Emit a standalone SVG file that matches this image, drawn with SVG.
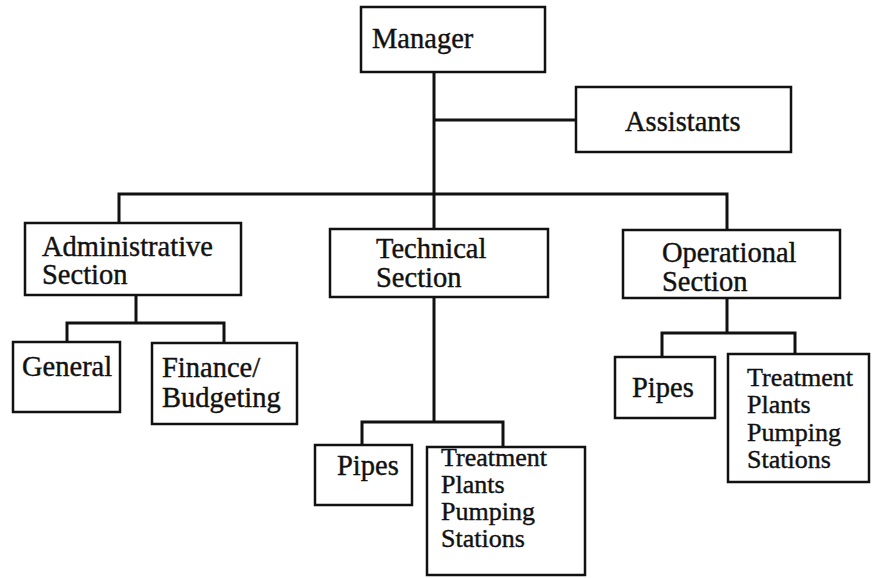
<svg xmlns="http://www.w3.org/2000/svg" width="872" height="578" viewBox="0 0 872 578">
<style>
.box{fill:#fff;stroke:#111;stroke-width:2.5}
.ln{fill:none;stroke:#111;stroke-width:3;stroke-linecap:square;stroke-linejoin:miter}
.t{font-family:'Liberation Serif','Times New Roman','DejaVu Serif',serif;font-size:28.5px;fill:#111;stroke:#111;stroke-width:0.4}
.s{font-size:26px}
</style>
<rect width="872" height="578" fill="#fff"/>
<g id="connectors">
<path class="ln" d="M434,72 V229 M434,120 H576 M119,223 V194 H727 V230"/>
<path class="ln" d="M136,295 V323 M67,342 V323 H224 V343"/>
<path class="ln" d="M434,297 V422 M362,445 V422 H503 V447"/>
<path class="ln" d="M727,298 V333 M662,357 V333 H795 V354"/>
</g>
<g id="manager"><rect class="box" x="361" y="7" width="184" height="65"/><text class="t" x="372" y="48">Manager</text></g>
<g id="assistants"><rect class="box" x="576" y="87" width="215" height="65"/><text class="t" x="625" y="131">Assistants</text></g>
<g id="admin"><rect class="box" x="25" y="223" width="216" height="72"/><text class="t" x="42" y="256">Administrative</text><text class="t" x="42" y="284">Section</text></g>
<g id="technical"><rect class="box" x="330" y="229" width="218" height="68"/><text class="t" x="376" y="258">Technical</text><text class="t" x="376" y="287">Section</text></g>
<g id="operational"><rect class="box" x="623" y="230" width="217" height="68"/><text class="t" x="662" y="262">Operational</text><text class="t" x="662" y="291">Section</text></g>
<g id="general"><rect class="box" x="13" y="342" width="107" height="70"/><text class="t" x="22" y="376">General</text></g>
<g id="finance"><rect class="box" x="152" y="343" width="145" height="81"/><text class="t" x="162" y="377">Finance/</text><text class="t" x="162" y="407">Budgeting</text></g>
<g id="tech-pipes"><rect class="box" x="315" y="445" width="97" height="60"/><text class="t" x="337" y="475">Pipes</text></g>
<g id="tech-treatment"><rect class="box" x="427" y="447" width="158" height="128"/><text class="t s" x="441" y="466">Treatment</text><text class="t s" x="441" y="493">Plants</text><text class="t s" x="441" y="520">Pumping</text><text class="t s" x="441" y="547">Stations</text></g>
<g id="op-pipes"><rect class="box" x="615" y="357" width="100" height="61"/><text class="t" x="632" y="397">Pipes</text></g>
<g id="op-treatment"><rect class="box" x="728" y="354" width="141" height="128"/><text class="t s" x="747" y="386">Treatment</text><text class="t s" x="747" y="413">Plants</text><text class="t s" x="747" y="441">Pumping</text><text class="t s" x="747" y="468">Stations</text></g>
</svg>
